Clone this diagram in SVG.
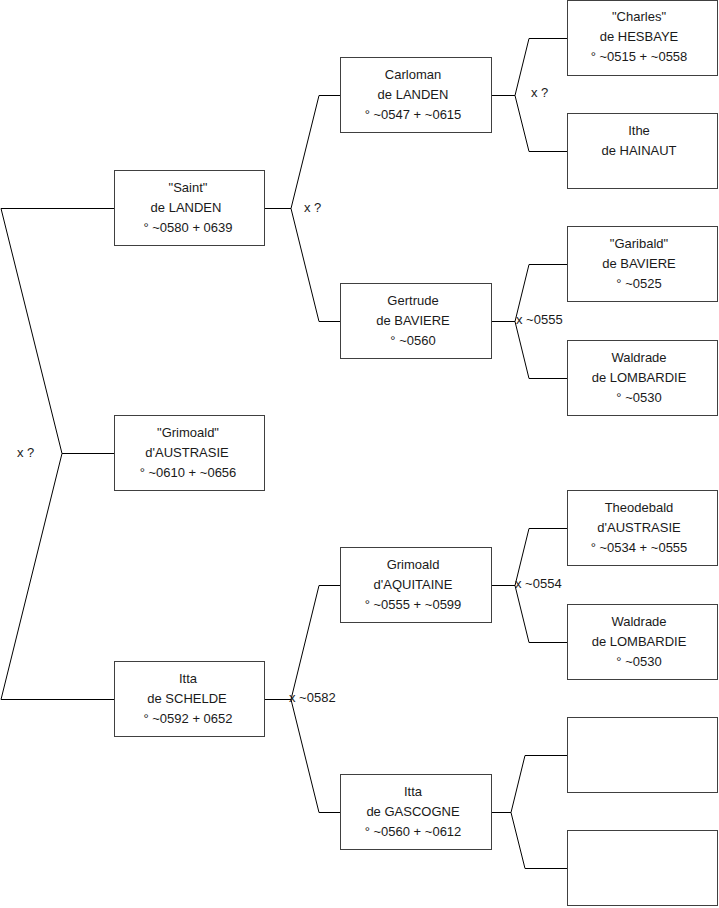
<svg xmlns="http://www.w3.org/2000/svg" width="719" height="908" viewBox="0 0 719 908">
<style>
.box{fill:#fff;stroke:#404040;stroke-width:1}
.ln{fill:none;stroke:#000;stroke-width:1}
text{font-family:"Liberation Sans",Arial,sans-serif;font-size:13px;fill:#1a1a1a}
.c{text-anchor:middle}
</style>
<rect width="719" height="908" fill="#fff"/>
<g id="connectors">
<path class="ln" d="M1,208.5 H114.5 M1,208.5 L62,453.5 L1,699.5 H114.5 M62,453.5 H114.5"/>
<path class="ln" d="M264.5,208.5 H291 L319,95.5 H340.5 M291,208.5 L319,321.5 H340.5"/>
<path class="ln" d="M264.5,699.5 H291 L319,585.5 H340.5 M291,699.5 L319,812.5 H340.5"/>
<path class="ln" d="M491.5,95.5 H515 L529,38.5 H567.5 M515,95.5 L529,151.5 H567.5"/>
<path class="ln" d="M491.5,321.5 H515 L529,264.5 H567.5 M515,321.5 L529,378.5 H567.5"/>
<path class="ln" d="M491.5,585.5 H515 L529,528.5 H567.5 M515,585.5 L529,642.5 H567.5"/>
<path class="ln" d="M491.5,812.5 H511 L525,755.5 H567.5 M511,812.5 L525,868.5 H567.5"/>
<text x="17" y="457">x ?</text>
<text x="304" y="212">x ?</text>
<text x="289" y="702">x ~0582</text>
<text x="531" y="97">x ?</text>
<text x="516" y="324">x ~0555</text>
<text x="515" y="588">x ~0554</text>
</g>
<g id="n-saint"><rect class="box" x="114.5" y="170.5" width="150" height="75"/>
<text class="c" x="188" y="192">"Saint"</text><text class="c" x="186" y="212">de LANDEN</text><text class="c" x="188" y="232">° ~0580 + 0639</text></g>
<g id="n-grimoald"><rect class="box" x="114.5" y="415.5" width="150" height="75"/>
<text class="c" x="188" y="437">"Grimoald"</text><text class="c" x="187" y="457">d'AUSTRASIE</text><text class="c" x="188" y="477">° ~0610 + ~0656</text></g>
<g id="n-itta"><rect class="box" x="114.5" y="661.5" width="150" height="75"/>
<text class="c" x="188" y="683">Itta</text><text class="c" x="187" y="703">de SCHELDE</text><text class="c" x="188" y="723">° ~0592 + 0652</text></g>
<g id="n-carloman"><rect class="box" x="340.5" y="57.5" width="151" height="75"/>
<text class="c" x="413" y="79">Carloman</text><text class="c" x="413" y="99">de LANDEN</text><text class="c" x="413" y="119">° ~0547 + ~0615</text></g>
<g id="n-gertrude"><rect class="box" x="340.5" y="283.5" width="151" height="75"/>
<text class="c" x="413" y="305">Gertrude</text><text class="c" x="413" y="325">de BAVIERE</text><text class="c" x="413" y="345">° ~0560</text></g>
<g id="n-grimoald-aq"><rect class="box" x="340.5" y="547.5" width="151" height="75"/>
<text class="c" x="413" y="569">Grimoald</text><text class="c" x="413" y="589">d'AQUITAINE</text><text class="c" x="413" y="609">° ~0555 + ~0599</text></g>
<g id="n-itta-gasc"><rect class="box" x="340.5" y="774.5" width="151" height="75"/>
<text class="c" x="413" y="796">Itta</text><text class="c" x="413" y="816">de GASCOGNE</text><text class="c" x="413" y="836">° ~0560 + ~0612</text></g>
<g id="n-charles"><rect class="box" x="567.5" y="0.5" width="150" height="75"/>
<text class="c" x="639" y="21">"Charles"</text><text class="c" x="639" y="41">de HESBAYE</text><text class="c" x="639" y="61">° ~0515 + ~0558</text></g>
<g id="n-ithe"><rect class="box" x="567.5" y="113.5" width="150" height="75"/>
<text class="c" x="639" y="135">Ithe</text><text class="c" x="639" y="155">de HAINAUT</text></g>
<g id="n-garibald"><rect class="box" x="567.5" y="226.5" width="150" height="75"/>
<text class="c" x="639" y="248">"Garibald"</text><text class="c" x="639" y="268">de BAVIERE</text><text class="c" x="639" y="288">° ~0525</text></g>
<g id="n-waldrade1"><rect class="box" x="567.5" y="340.5" width="150" height="75"/>
<text class="c" x="639" y="362">Waldrade</text><text class="c" x="639" y="382">de LOMBARDIE</text><text class="c" x="639" y="402">° ~0530</text></g>
<g id="n-theodebald"><rect class="box" x="567.5" y="490.5" width="150" height="75"/>
<text class="c" x="639" y="512">Theodebald</text><text class="c" x="639" y="532">d'AUSTRASIE</text><text class="c" x="639" y="552">° ~0534 + ~0555</text></g>
<g id="n-waldrade2"><rect class="box" x="567.5" y="604.5" width="150" height="75"/>
<text class="c" x="639" y="626">Waldrade</text><text class="c" x="639" y="646">de LOMBARDIE</text><text class="c" x="639" y="666">° ~0530</text></g>
<g id="n-empty1"><rect class="box" x="567.5" y="717.5" width="150" height="75"/></g>
<g id="n-empty2"><rect class="box" x="567.5" y="830.5" width="150" height="75"/></g>
</svg>
